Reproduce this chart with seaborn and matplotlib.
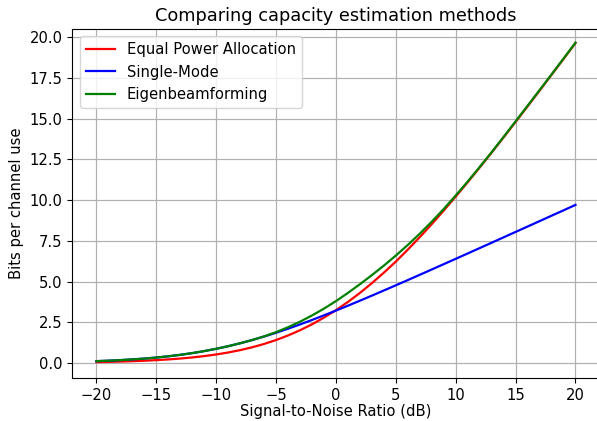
import pandas as pd
import matplotlib
matplotlib.use("Agg")
import matplotlib.pyplot as plt
import seaborn as sns

plt.rcParams["font.size"] = 10.6
plt.rcParams["axes.titlesize"] = 12.8
plt.rcParams["grid.linewidth"] = 0.85
plt.rcParams["xtick.major.size"] = 3.7
plt.rcParams["ytick.major.size"] = 3.7

# SNR axis (dB)
snr_db = list(range(-20, 21))

# values (bits per channel use)
equal_power = [0.057, 0.072, 0.090, 0.113, 0.141, 0.177, 0.221, 0.275, 0.342, 0.424,
               0.524, 0.645, 0.791, 0.964, 1.170, 1.411, 1.691, 2.011, 2.375, 2.786,
               3.243, 3.748, 4.298, 4.899, 5.543, 6.223, 6.958, 7.723, 8.523, 9.353,
               10.211, 11.092, 11.993, 12.911, 13.845, 14.790, 15.745, 16.708, 17.678, 18.652,
               19.631]
single_mode = [0.115, 0.143, 0.178, 0.221, 0.273, 0.336, 0.412, 0.502, 0.608, 0.731,
               0.872, 1.032, 1.211, 1.409, 1.625, 1.858, 2.106, 2.367, 2.641, 2.925,
               3.217, 3.517, 3.823, 4.134, 4.450, 4.768, 5.089, 5.413, 5.738, 6.065,
               6.392, 6.721, 7.051, 7.381, 7.711, 8.042, 8.373, 8.704, 9.036, 9.367,
               9.699]
eigenbeam = [0.115, 0.143, 0.178, 0.221, 0.273, 0.336, 0.412, 0.502, 0.608, 0.731,
             0.872, 1.032, 1.211, 1.409, 1.635, 1.894, 2.196, 2.535, 2.918, 3.338,
             3.798, 4.301, 4.834, 5.393, 5.976, 6.593, 7.244, 7.935, 8.672, 9.449,
             10.280, 11.135, 12.024, 12.935, 13.874, 14.828, 15.785, 16.741, 17.705, 18.676,
             19.652]

labels = ["Equal Power Allocation", "Single-Mode", "Eigenbeamforming"]
colors = {"Equal Power Allocation": "red", "Single-Mode": "blue", "Eigenbeamforming": "green"}

df = pd.concat([
    pd.DataFrame({"snr": snr_db, "bits": vals, "method": name})
    for name, vals in zip(labels, [equal_power, single_mode, eigenbeam])
])

fig = plt.figure(figsize=(5.97, 4.21), dpi=100)
# right spine sits just past the image edge in the reference
ax = fig.add_axes([0.1214, 0.1021, 0.8827, 0.829])
sns.lineplot(data=df, x="snr", y="bits", hue="method", hue_order=labels,
             palette=colors, linewidth=1.6, ax=ax)

ax.set_xlim(-22, 22)
ax.set_ylim(-0.92, 20.49)
ax.set_yticks([0, 2.5, 5, 7.5, 10, 12.5, 15, 17.5, 20])
ax.grid(True)
ax.set_title("Comparing capacity estimation methods")
ax.set_xlabel("Signal-to-Noise Ratio (dB)", labelpad=0.5)
ax.set_ylabel("Bits per channel use")
ax.legend(loc="upper left", title=None)

fig.savefig("out.png", dpi=100)
